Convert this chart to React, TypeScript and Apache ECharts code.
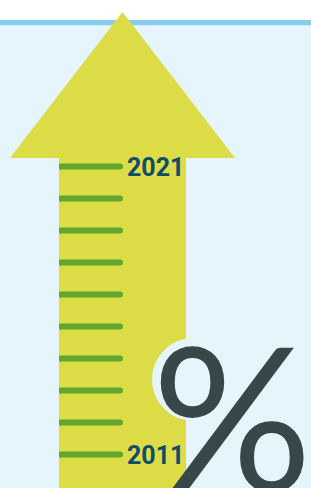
import React, { useEffect, useRef } from "react";
import * as echarts from "echarts";

// tick marks from bottom (index 0) to top; only the ends are labelled
const tickLabels = ["2011", "", "", "", "", "", "", "", "", "2021"];
const tickIndex = tickLabels.map((_, i) => i);
const symbolText = "%";

const BG = "#e6f4fc";
const LINE = "#88ccef";
const YELLOW = "#dcdc46";
const GREEN = "#64a531";
const LABEL = "#0f4c6a";
const DARK = "#374849";

export default function App() {
  const ref = useRef<HTMLDivElement>(null);
  useEffect(() => {
    if (!ref.current) return;
    const chart = echarts.init(ref.current, undefined, { renderer: "svg" });
    chart.setOption({
      animation: false,
      backgroundColor: BG,
      grid: { left: 59, width: 64, top: 166.5, bottom: 33.5 },
      xAxis: { type: "value", min: 0, max: 1, show: false },
      yAxis: {
        type: "category",
        data: tickLabels,
        boundaryGap: false,
        show: false,
      },
      graphic: [
        { type: "rect", z: 0, shape: { x: 0, y: 0, width: 311, height: 20 }, style: { fill: "#ffffff" } },
        { type: "rect", z: 0, shape: { x: 0, y: 20, width: 311, height: 5.3 }, style: { fill: LINE } },
        { type: "rect", z: 0, shape: { x: 59, y: 157, width: 127, height: 340 }, style: { fill: YELLOW } },
        {
          type: "polygon",
          z: 0,
          shape: { points: [[10, 158], [122.5, 12], [235, 158]] },
          style: { fill: YELLOW },
        },
        { type: "circle", z: 50, shape: { cx: 193.5, cy: 379.5, r: 41.5 }, style: { fill: BG } },
        {
          type: "text",
          z: 51,
          x: 152,
          y: 414,
          style: {
            text: symbolText,
            fill: DARK,
            font: "400 200px Lato",
            textAlign: "left",
            textVerticalAlign: "middle",
          },
        },
      ],
      series: [
        {
          type: "custom",
          z: 10,
          data: tickIndex.map((i) => [i, tickLabels[i]]),
          renderItem: (params: any, api: any) => {
            const idx = api.value(0);
            const start = api.coord([0, idx]);
            const end = api.coord([1, idx]);
            const label = tickLabels[idx];
            const children: any[] = [
              {
                type: "rect",
                shape: { x: start[0], y: start[1] - 3, width: end[0] - start[0], height: 6, r: [0, 3, 3, 0] },
                style: { fill: GREEN },
              },
            ];
            if (label) {
              children.push({
                type: "text",
                x: end[0] + 4,
                y: end[1] + 1,
                style: {
                  text: label,
                  fill: LABEL,
                  font: "700 25px Roboto",
                  textAlign: "left",
                  textVerticalAlign: "middle",
                },
              });
            }
            return { type: "group", children };
          },
        },
      ],
    });
    return () => chart.dispose();
  }, []);
  return (
    <div
      ref={ref}
      style={{ position: "fixed", left: 0, top: 0, width: 311, height: 488 }}
    />
  );
}
